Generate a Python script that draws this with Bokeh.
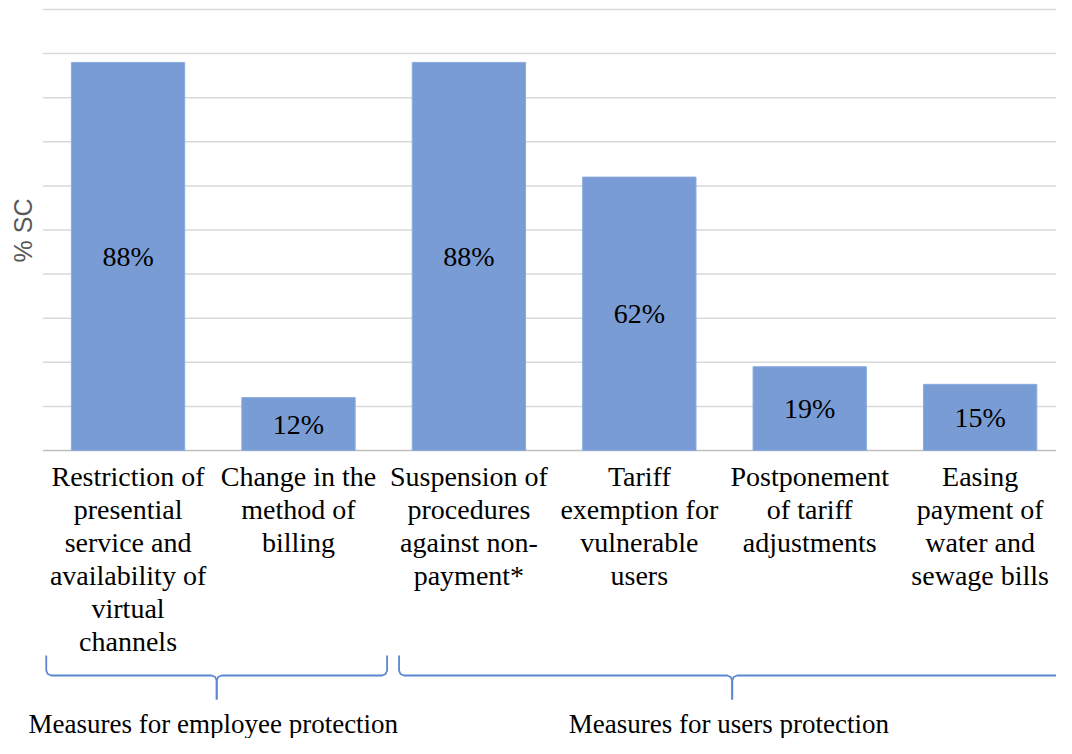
from bokeh.plotting import figure
from bokeh.models import Range1d, ColumnDataSource
from bokeh.core.properties import value
from bokeh.embed import file_html
from bokeh.resources import INLINE
import math

# ---- data ----
categories = [
    "Restriction of\npresential\nservice and\navailability of\nvirtual\nchannels",
    "Change in the\nmethod of\nbilling",
    "Suspension of\nprocedures\nagainst non-\npayment*",
    "Tariff\nexemption for\nvulnerable\nusers",
    "Postponement\nof tariff\nadjustments",
    "Easing\npayment of\nwater and\nsewage bills",
]
values = [88, 12, 88, 62, 19, 15]
value_labels = ["88%", "12%", "88%", "62%", "19%", "15%"]
grid_ticks = [10, 20, 30, 40, 50, 60, 70, 80, 90, 100]
group_names = ["Measures  for employee protection", "Measures  for users protection"]
group_start = [0.02, 2.09]   # category-axis units
group_end = [2.02, 6.0]
y_title = "% SC"

# ---- layout (reference-pixel helpers for annotation placement) ----
W, H = 1056, 738
def rx(px):
    return 0.5 + (px - 129.5) / 173.0
def ry(py):
    return (450.0 - py) / 4.41

X_START, X_END = rx(0), rx(1072)
Y_START, Y_END = ry(738), ry(0)

SERIF = value("Liberation Serif")
BAR = "#7A9CD5"
BRACKET = "#5B87D2"

p = figure(width=W, height=H, output_backend="svg", toolbar_location=None,
           x_range=Range1d(X_START, X_END), y_range=Range1d(Y_START, Y_END),
           min_border=0, min_border_left=0, min_border_right=0,
           min_border_top=0, min_border_bottom=0)
p.axis.visible = False
p.grid.visible = False
p.outline_line_color = None
p.background_fill_color = "white"
p.border_fill_color = "white"

xs = [i + 0.5 for i in range(len(categories))]

# gridlines
p.segment(x0=[0] * len(grid_ticks), x1=[X_END + 0.2] * len(grid_ticks),
          y0=grid_ticks, y1=grid_ticks, line_color="#d9d9d9", line_width=1.5)
# baseline
p.segment(x0=[0], x1=[X_END + 0.2], y0=[0], y1=[0], line_color="#bfbfbf", line_width=1.5)

src = ColumnDataSource(dict(x=xs, top=values, mid=[v / 2 for v in values],
                            lab=value_labels, cat=categories))
p.vbar(x="x", top="top", bottom=0, width=0.665, source=src,
       fill_color=BAR, line_color="#8AABE0", line_width=1)

p.text(x="x", y="mid", text="lab", source=src, text_font=SERIF,
       text_font_size="28px", text_color="black", text_align="center",
       text_baseline="middle")

# category labels
p.text(x="x", y=ry(460), text="cat", source=src, text_font=SERIF,
       text_font_size="28px", text_color="black", text_align="center",
       text_baseline="top", text_line_height=1.065)

# y title
p.text(x=[rx(23)], y=[ry(230)], text=[y_title], angle=math.pi / 2,
       text_font=value("Liberation Sans"), text_font_size="25px",
       text_color="#595959", text_align="center", text_baseline="middle")

# brackets
y_top, y_bar, y_tip = ry(655), ry(675), ry(699)
dx = 5 / 173.0
dy = 5 / 4.41
bxs, bys = [], []
centers = []
for a, b in zip(group_start, group_end):
    c = (a + b) / 2
    centers.append(c)
    for end, s in ((a, 1), (b, -1)):
        bxs.append([end, end, end + s * dx * 0.3, end + s * dx,
                    c - s * dx, c - s * dx * 0.3, c, c])
        bys.append([y_top, y_bar + dy, y_bar + dy * 0.3, y_bar,
                    y_bar, y_bar - dy * 0.3, y_bar - dy, y_tip])
p.multi_line(xs=bxs, ys=bys, line_color=BRACKET, line_width=1.8)

# group labels
p.text(x=centers, y=[ry(723)] * 2, text=group_names, text_font=SERIF,
       text_font_size="27px", text_color="black", text_align="center",
       text_baseline="middle")

open("out.html", "w").write(file_html(p, INLINE))
